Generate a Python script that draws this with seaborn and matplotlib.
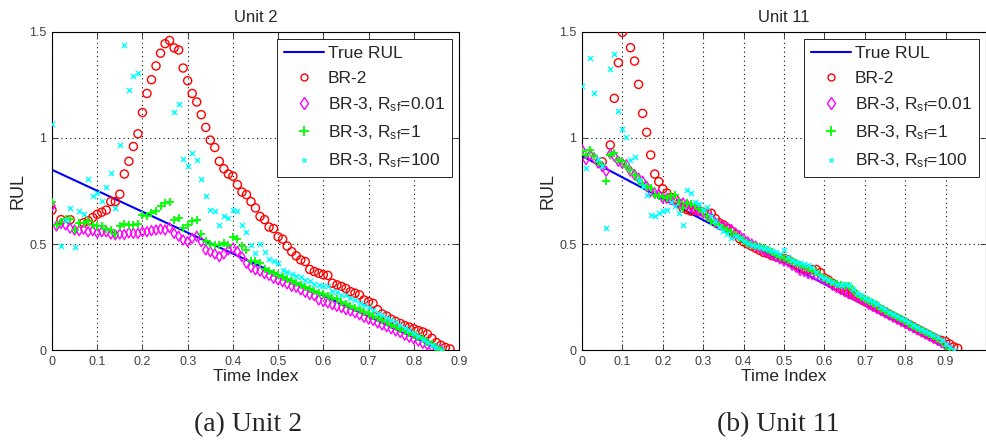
import numpy as np
import matplotlib
matplotlib.use("Agg")
import matplotlib.pyplot as plt
import seaborn as sns
from matplotlib.lines import Line2D

sns.set_style("ticks")
plt.rcParams["font.family"] = ["Liberation Sans", "DejaVu Sans"]
plt.rcParams["mathtext.fontset"] = "custom"
plt.rcParams["mathtext.rm"] = "Liberation Sans"
plt.rcParams["mathtext.it"] = "Liberation Sans:italic"

nan = np.nan

# ---------------- Unit 2 ----------------
t_unit2 = [0.00, 0.01, 0.02, 0.03, 0.04, 0.05, 0.06, 0.07, 0.08, 0.09,
           0.10, 0.11, 0.12, 0.13, 0.14, 0.15, 0.16, 0.17, 0.18, 0.19,
           0.20, 0.21, 0.22, 0.23, 0.24, 0.25, 0.26, 0.27, 0.28, 0.29,
           0.30, 0.31, 0.32, 0.33, 0.34, 0.35, 0.36, 0.37, 0.38, 0.39,
           0.40, 0.41, 0.42, 0.43, 0.44, 0.45, 0.46, 0.47, 0.48, 0.49,
           0.50, 0.51, 0.52, 0.53, 0.54, 0.55, 0.56, 0.57, 0.58, 0.59,
           0.60, 0.61, 0.62, 0.63, 0.64, 0.65, 0.66, 0.67, 0.68, 0.69,
           0.70, 0.71, 0.72, 0.73, 0.74, 0.75, 0.76, 0.77, 0.78, 0.79,
           0.80, 0.81, 0.82, 0.83, 0.84, 0.85, 0.86, 0.87, 0.88]
true_x_unit2 = [0.0, 0.86]
true_y_unit2 = [0.85, 0.0]
br2_unit2 = [0.66, nan, 0.615, nan, 0.615, nan, nan, 0.60, 0.61, 0.625,
             0.64, 0.65, 0.66, 0.70, 0.70, 0.735, 0.83, 0.89, 0.96, 1.02,
             1.12, 1.21, 1.275, 1.34, 1.40, 1.445, 1.46, 1.425, 1.415, 1.33,
             1.27, 1.21, 1.17, 1.11, 1.05, 0.99, 0.955, 0.89, 0.855, 0.83,
             0.82, 0.78, 0.745, 0.733, 0.70, 0.67, 0.63, 0.615, 0.58, 0.573,
             0.534, 0.523, 0.49, 0.464, 0.444, 0.425, 0.417, 0.38, 0.37, 0.362,
             0.355, 0.352, 0.315, 0.307, 0.30, 0.29, 0.275, 0.268, 0.26, 0.236,
             0.228, 0.22, 0.19, 0.17, 0.16, 0.145, 0.135, 0.125, 0.115, 0.108,
             0.10, 0.092, 0.085, 0.075, 0.055, 0.035, 0.022, 0.012, 0.005]
br3_001_unit2 = [0.68, 0.585, 0.597, 0.59, 0.575, 0.566, 0.563, 0.57, 0.558, 0.563,
                 0.553, 0.558, 0.558, 0.547, 0.543, 0.547, 0.545, 0.553, 0.55, 0.55,
                 0.558, 0.558, 0.563, 0.566, 0.57, 0.566, 0.577, 0.55, 0.537, 0.519,
                 0.511, 0.527, 0.537, 0.511, 0.472, 0.464, 0.453, 0.44, 0.453, 0.472,
                 0.48, 0.464, 0.44, 0.409, 0.39, 0.378, 0.372, 0.36, 0.352, 0.338,
                 0.33, 0.322, 0.312, 0.30, 0.296, 0.284, 0.272, 0.262, 0.256, 0.236,
                 0.228, 0.222, 0.214, 0.206, 0.20, 0.19, 0.184, 0.176, 0.166, 0.154,
                 0.146, 0.14, 0.128, 0.118, 0.11, 0.10, 0.09, 0.082, 0.07, 0.06,
                 0.052, 0.042, 0.032, 0.024, 0.016, 0.008, 0.0, nan, nan]
br3_1_unit2 = [0.70, 0.59, 0.605, 0.62, 0.62, 0.567, 0.60, 0.60, 0.61, 0.588,
               0.585, 0.583, 0.572, 0.568, 0.547, 0.586, 0.596, 0.591, 0.588, 0.594,
               0.638, 0.63, 0.646, 0.657, 0.678, 0.693, 0.70, 0.615, 0.623, 0.575,
               0.59, 0.607, 0.615, 0.547, 0.513, 0.50, 0.497, 0.497, 0.505, 0.497,
               0.531, 0.525, 0.489, 0.473, 0.418, 0.418, 0.41, 0.38, 0.372, 0.362,
               0.352, 0.345, 0.336, 0.325, 0.316, 0.305, 0.296, 0.29, 0.28, 0.27,
               0.262, 0.255, 0.246, 0.24, 0.226, 0.215, 0.206, 0.196, 0.19, 0.18,
               0.17, 0.16, 0.15, 0.14, 0.13, 0.12, 0.11, 0.10, 0.09, 0.08,
               0.07, 0.06, 0.05, 0.04, 0.03, 0.016, 0.0, nan, nan]
br3_100_unit2 = [1.066, nan, 0.489, 0.615, 0.67, 0.484, 0.654, 0.642, 0.808, 0.725,
                 0.74, 0.701, 0.769, 0.833, 0.67, 0.965, 1.437, 1.226, 1.291, 1.307,
                 nan, nan, nan, nan, nan, nan, nan, 1.123, 1.162, 0.901,
                 0.866, 0.929, 0.898, 0.808, 0.725, 0.662, 0.654, 0.591, 0.63, 0.623,
                 0.662, 0.654, 0.591, 0.557, 0.497, 0.458, 0.50, 0.464, 0.427, 0.42,
                 0.412, 0.377, 0.37, 0.36, 0.35, 0.345, 0.33, 0.325, 0.31, 0.305,
                 0.30, 0.30, 0.28, 0.275, 0.26, 0.26, 0.245, 0.235, 0.22, 0.21,
                 0.205, 0.19, 0.175, 0.165, 0.15, 0.14, 0.13, 0.12, 0.105, 0.095,
                 0.08, 0.065, 0.05, 0.04, 0.025, 0.012, 0.0, nan, nan]

# ---------------- Unit 11 ----------------
t_unit11 = [0.00, 0.01, 0.02, 0.03, 0.04, 0.05, 0.06, 0.07, 0.08, 0.09,
            0.10, 0.11, 0.12, 0.13, 0.14, 0.15, 0.16, 0.17, 0.18, 0.19,
            0.20, 0.21, 0.22, 0.23, 0.24, 0.25, 0.26, 0.27, 0.28, 0.29,
            0.30, 0.31, 0.32, 0.33, 0.34, 0.35, 0.36, 0.37, 0.38, 0.39,
            0.40, 0.41, 0.42, 0.43, 0.44, 0.45, 0.46, 0.47, 0.48, 0.49,
            0.50, 0.51, 0.52, 0.53, 0.54, 0.55, 0.56, 0.57, 0.58, 0.59,
            0.60, 0.61, 0.62, 0.63, 0.64, 0.65, 0.66, 0.67, 0.68, 0.69,
            0.70, 0.71, 0.72, 0.73, 0.74, 0.75, 0.76, 0.77, 0.78, 0.79,
            0.80, 0.81, 0.82, 0.83, 0.84, 0.85, 0.86, 0.87, 0.88, 0.89,
            0.90, 0.91, 0.92, 0.93]
true_x_unit11 = [0.0, 0.91]
true_y_unit11 = [0.915, 0.0]
br2_unit11 = [nan, nan, nan, nan, nan, 0.888, nan, 0.967, 1.187, 1.355,
              1.498, nan, 1.426, 1.363, 1.253, 1.116, 1.027, 0.92, 0.83, 0.794,
              0.76, 0.74, 0.72, 0.71, 0.69, 0.67, 0.662, 0.655, 0.662, 0.654,
              0.65, 0.648, 0.645, 0.62, 0.60, 0.59, 0.575, 0.56, 0.545, 0.525,
              0.51, 0.50, 0.49, 0.48, 0.47, 0.46, 0.455, 0.445, 0.44, 0.435,
              0.432, 0.425, 0.41, 0.40, 0.385, 0.38, 0.38, 0.38, 0.38, 0.365,
              0.34, 0.33, 0.315, 0.30, 0.29, 0.28, 0.27, 0.26, 0.25, 0.24,
              0.23, 0.22, 0.21, 0.20, 0.19, 0.18, 0.17, 0.16, 0.15, 0.14,
              0.13, 0.12, 0.11, 0.10, 0.09, 0.08, 0.07, 0.06, 0.05, 0.045,
              0.04, 0.028, 0.015, 0.008]
br3_001_unit11 = [0.945, 0.898, 0.92, 0.906, 0.882, 0.866, 0.843, 0.925, 0.914, 0.89,
                  0.88, 0.874, 0.843, 0.827, 0.81, 0.796, 0.772, 0.748, 0.74, 0.733,
                  0.717, 0.715, 0.709, 0.701, 0.695, 0.693, 0.686, 0.675, 0.662, 0.655,
                  0.646, 0.635, 0.623, 0.60, 0.591, 0.583, 0.575, 0.568, 0.552, 0.54,
                  0.525, 0.51, 0.50, 0.49, 0.48, 0.47, 0.46, 0.45, 0.44, 0.43,
                  0.42, 0.415, 0.40, 0.39, 0.375, 0.37, 0.36, 0.355, 0.35, 0.34,
                  0.33, 0.32, 0.305, 0.295, 0.285, 0.275, 0.265, 0.26, 0.25, 0.24,
                  0.23, 0.215, 0.205, 0.195, 0.185, 0.175, 0.165, 0.155, 0.145, 0.135,
                  0.125, 0.115, 0.105, 0.095, 0.085, 0.075, 0.065, 0.055, 0.045, 0.035,
                  0.02, 0.008, nan, nan]
br3_1_unit11 = [0.937, 0.92, 0.945, 0.914, 0.886, 0.874, 0.799, 0.921, 0.929, 0.898,
                0.89, 0.87, 0.851, 0.827, 0.80, 0.78, 0.77, 0.764, 0.733, 0.725,
                0.72, 0.717, 0.725, 0.733, 0.70, 0.67, 0.693, 0.69, 0.686, 0.665,
                0.654, 0.63, 0.607, 0.60, 0.591, 0.575, 0.565, 0.555, 0.544, 0.53,
                0.513, 0.50, 0.495, 0.49, 0.485, 0.481, 0.47, 0.462, 0.45, 0.44,
                0.434, 0.425, 0.418, 0.41, 0.40, 0.39, 0.385, 0.375, 0.37, 0.355,
                0.34, 0.33, 0.32, 0.31, 0.305, 0.30, 0.30, 0.285, 0.265, 0.25,
                0.24, 0.23, 0.22, 0.21, 0.195, 0.185, 0.175, 0.165, 0.155, 0.145,
                0.135, 0.125, 0.115, 0.105, 0.095, 0.085, 0.075, 0.065, 0.05, 0.04,
                0.02, 0.005, nan, nan]
br3_100_unit11 = [1.245, 0.857, 1.376, 1.214, 0.90, 0.87, 0.575, 1.325, 1.394, 1.129,
                  1.041, 1.006, 0.896, 0.912, 0.80, 0.772, 0.733, 0.638, 0.63, 0.646,
                  0.657, 0.66, 0.70, 0.68, 0.646, 0.588, 0.755, 0.741, 0.70, 0.69,
                  0.66, 0.676, 0.63, 0.61, 0.58, 0.56, 0.545, 0.53, 0.54, 0.53,
                  0.515, 0.505, 0.495, 0.49, 0.485, 0.48, 0.475, 0.465, 0.46, 0.455,
                  0.47, 0.44, 0.425, 0.415, 0.41, 0.405, 0.40, 0.39, 0.37, 0.35,
                  0.34, 0.33, 0.32, 0.31, 0.305, 0.31, 0.305, 0.29, 0.27, 0.26,
                  0.245, 0.235, 0.225, 0.215, 0.205, 0.195, 0.18, 0.17, 0.16, 0.15,
                  0.14, 0.13, 0.12, 0.11, 0.10, 0.09, 0.08, 0.07, 0.06, 0.045,
                  0.03, 0.015, 0.0, nan]

# ---------------- labels ----------------
legend_labels = ["True RUL", "BR-2",
                 r"BR-3, R$_{\mathrm{sf}}$=0.01",
                 r"BR-3, R$_{\mathrm{sf}}$=1",
                 r"BR-3, R$_{\mathrm{sf}}$=100"]
y_ticks = [0, 0.5, 1, 1.5]
y_tick_labels = ["0", "0.5", "1", "1.5"]
x_ticks = [0, 0.1, 0.2, 0.3, 0.4, 0.5, 0.6, 0.7, 0.8, 0.9]
x_tick_labels = ["0", "0.1", "0.2", "0.3", "0.4", "0.5", "0.6", "0.7", "0.8", "0.9"]

W, H = 987, 444
fig = plt.figure(figsize=(W / 100, H / 100), dpi=100)
ax1 = fig.add_axes([52 / W, (H - 350) / H, 407 / W, 318 / H])
ax2 = fig.add_axes([582 / W, (H - 350) / H, 404 / W, 318 / H])

RED, MAG, GRN, CYN, BLU = "#ff0000", "#ff00ff", "#00ff00", "#00ffff", "#0000ff"


def draw(ax, t, tx, ty, br2, b001, b1, b100, title, xmax):
    sns.lineplot(x=tx, y=ty, ax=ax, color=BLU, linewidth=1.5, zorder=2)
    sns.scatterplot(x=t, y=br2, ax=ax, marker="o", s=34, facecolors="none",
                    edgecolor=RED, linewidth=1.0, zorder=3)
    sns.scatterplot(x=t, y=b001, ax=ax, marker="d", s=26, facecolors="none",
                    edgecolor=MAG, linewidth=1.0, zorder=4)
    sns.scatterplot(x=t, y=b1, ax=ax, marker="+", s=40, color=GRN,
                    linewidth=1.3, zorder=5)
    sns.scatterplot(x=t, y=b100, ax=ax, marker="x", s=14, color=CYN,
                    linewidth=1.0, zorder=6)
    ax.set_xlim(0, xmax)
    ax.set_ylim(0, 1.5)
    ax.set_xticks(x_ticks)
    ax.set_xticklabels(x_tick_labels)
    ax.set_yticks(y_ticks)
    ax.set_yticklabels(y_tick_labels)
    ax.grid(True, color="#111111", linestyle=(0, (1, 3)), linewidth=0.8)
    ax.set_axisbelow(True)
    ax.tick_params(direction="in", top=True, right=True, length=4, width=0.6,
                   labelsize=9, labelcolor="#404040", pad=4)
    for sp in ax.spines.values():
        sp.set_visible(True)
        sp.set_color("black")
        sp.set_linewidth(0.8)
    ax.set_title(title, fontsize=12, pad=7)
    ax.set_xlabel("Time Index", fontsize=12.5, labelpad=1)
    ax.set_ylabel("RUL", fontsize=13, labelpad=2)
    handles = [
        Line2D([], [], color=BLU, lw=1.5),
        Line2D([], [], ls="", marker="o", mfc="none", mec=RED, ms=5, mew=1),
        Line2D([], [], ls="", marker="d", mfc="none", mec=MAG, ms=6, mew=1),
        Line2D([], [], ls="", marker="+", color=GRN, ms=6.5, mew=1.3),
        Line2D([], [], ls="", marker="x", color=CYN, ms=3.5, mew=1),
    ]
    leg = ax.legend(handles, legend_labels, loc="upper right", fontsize=12.5,
                    frameon=True, fancybox=False, framealpha=1, edgecolor="black",
                    handlelength=2.3, handletextpad=0.25, borderaxespad=0.4,
                    labelspacing=0.55, borderpad=0.4)
    leg.get_frame().set_linewidth(0.6)
    leg.set_zorder(10)


draw(ax1, t_unit2, true_x_unit2, true_y_unit2, br2_unit2, br3_001_unit2,
     br3_1_unit2, br3_100_unit2, "Unit 2", 0.9)
draw(ax2, t_unit11, true_x_unit11, true_y_unit11, br2_unit11, br3_001_unit11,
     br3_1_unit11, br3_100_unit11, "Unit 11", 1.0)

fig.text(248 / W, 1 - 425 / H, "(a) Unit 2", ha="center", va="center",
         family="Liberation Serif", fontsize=20)
fig.text(778 / W, 1 - 425 / H, "(b) Unit 11", ha="center", va="center",
         family="Liberation Serif", fontsize=20)

fig.savefig("out.png", dpi=100)
